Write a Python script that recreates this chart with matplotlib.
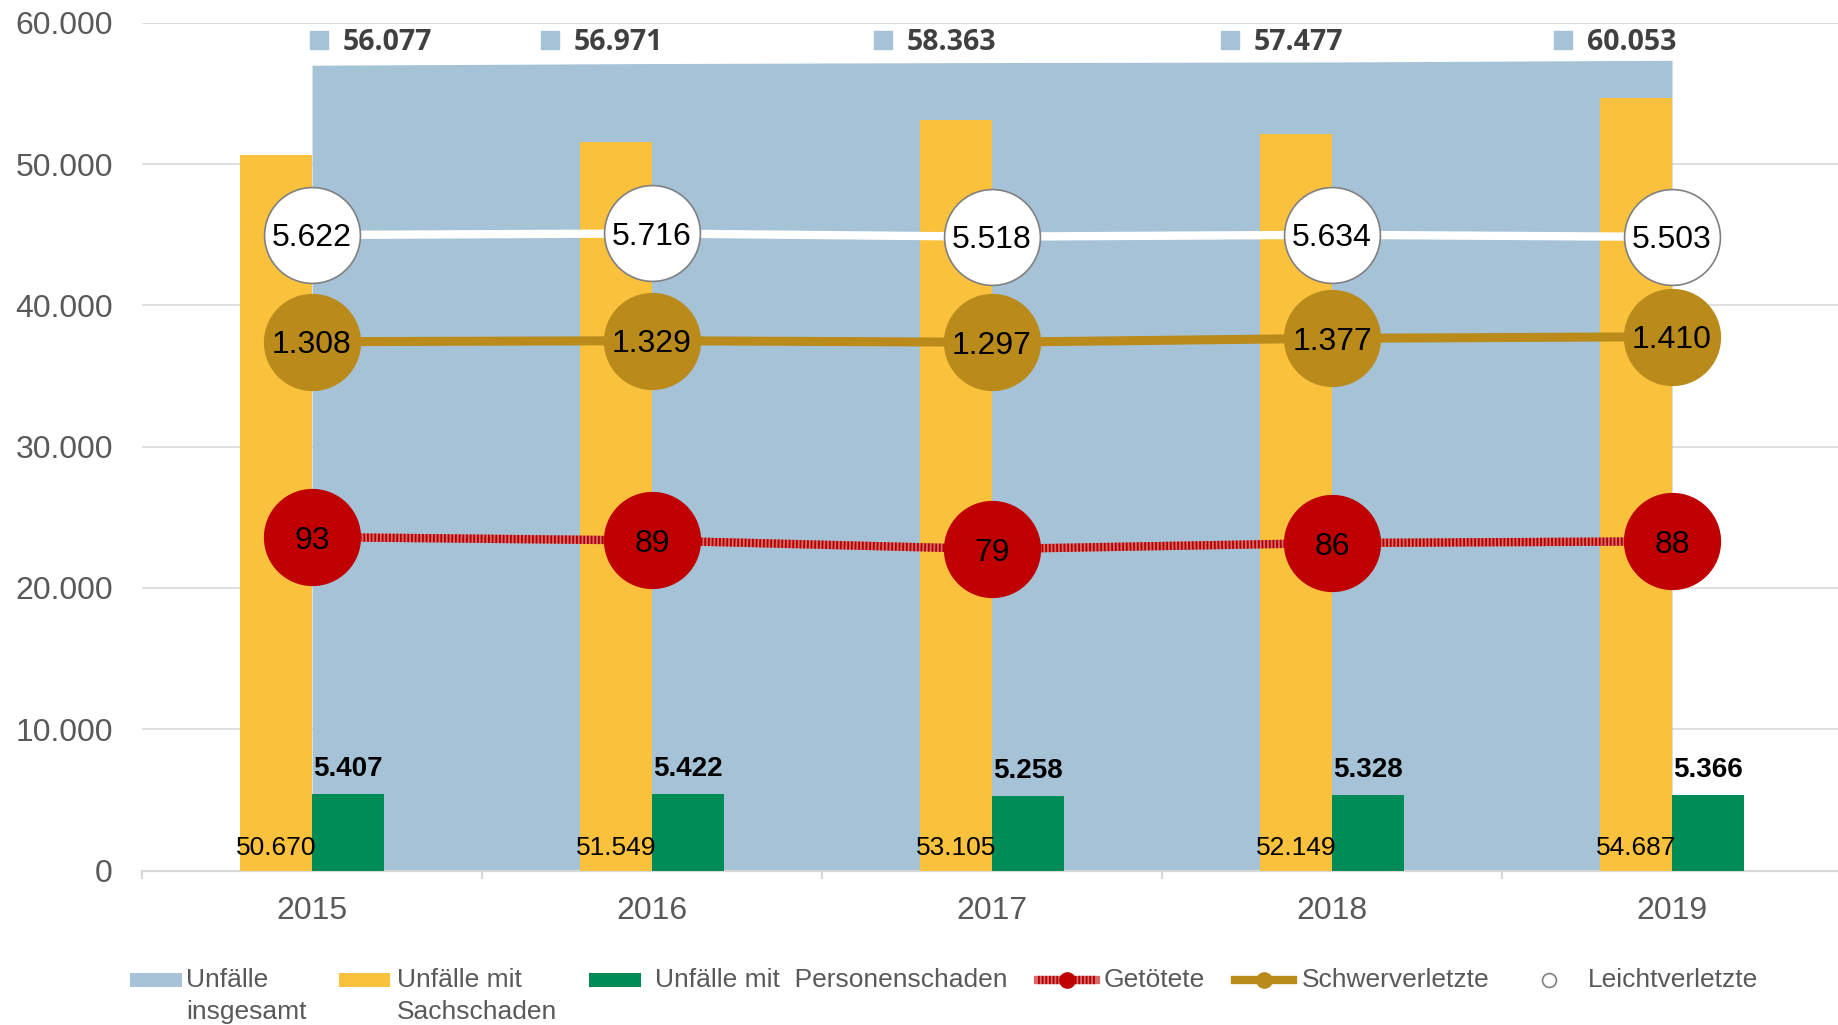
import matplotlib
matplotlib.use("Agg")
import matplotlib.pyplot as plt
from matplotlib.patches import Rectangle
from matplotlib.lines import Line2D
from matplotlib.ticker import FuncFormatter, FixedLocator
import numpy as np

# ---------------- data ----------------
years = ["2015", "2016", "2017", "2018", "2019"]
total_labels = [56077, 56971, 58363, 57477, 60053]      # "Unfälle insgesamt" (label values)
total_area = [56990, 57110, 57180, 57220, 57340]        # blue area height as drawn in the picture
sach = [50670, 51549, 53105, 52149, 54687]              # Unfälle mit Sachschaden
personen = [5407, 5422, 5258, 5328, 5366]               # Unfälle mit Personenschaden
getoetete = [93, 89, 79, 86, 88]
schwer = [1308, 1329, 1297, 1377, 1410]
leicht = [5622, 5716, 5518, 5634, 5503]
y_ticks = [0, 10000, 20000, 30000, 40000, 50000, 60000]
legend_labels = [["Unfälle", "insgesamt"], ["Unfälle mit", "Sachschaden"],
                 ["Unfälle mit  Personenschaden"], ["Getötete"], ["Schwerverletzte"],
                 ["Leichtverletzte"]]

# ---------------- style ----------------
BLUE = "#A5C2D7"
ORANGE = "#F9C13C"
GREEN = "#008C56"
GOLD = "#BA8A1B"
RED = "#C00000"
RED_LIGHT = "#D86A6A"
RED_DARK = "#B00000"
GRID = "#D9D9D9"
TXT = "#595959"

plt.rcParams["font.family"] = ["Liberation Sans", "DejaVu Sans"]


def de(v):
    return f"{int(v):,}".replace(",", ".")


W, H = 1838, 1025
fig = plt.figure(figsize=(W / 100, H / 100), dpi=100)


def fx(px):
    return px / W


def fy(py):  # py measured from top
    return (H - py) / H


ax = fig.add_axes([142 / W, (H - 870.5) / H, 1700 / W, 847.8 / H])
x = np.arange(len(years))
ax.set_xlim(-0.5, 4.5)
ax.set_ylim(0, 60000)

# grid / spines
ax.set_yticks(y_ticks)
ax.yaxis.set_major_formatter(FuncFormatter(lambda v, p: de(v)))
ax.grid(axis="y", color=GRID, lw=1.2, zorder=0)
ax.set_axisbelow(True)
for s in ["left", "right", "top"]:
    ax.spines[s].set_visible(False)
ax.spines["bottom"].set_color(GRID)
ax.spines["bottom"].set_linewidth(1.6)
ax.tick_params(axis="y", length=0, pad=21, labelsize=23, labelcolor=TXT)
ax.set_xticks(x)
ax.set_xticklabels(years)
ax.tick_params(axis="x", which="major", length=0, pad=18.5, labelsize=23, labelcolor=TXT)
ax.xaxis.set_minor_locator(FixedLocator(np.arange(-0.5, 5.0, 1.0)))
ax.tick_params(axis="x", which="minor", length=6, width=1.6, color=GRID)

# area + bars
ax.fill_between(x, 0, total_area, color=BLUE, lw=0, zorder=2)
bw = 0.213
ax.bar(x - bw / 2, sach, width=bw, color=ORANGE, zorder=3)
ax.bar(x + bw / 2, personen, width=bw, color=GREEN, zorder=3)

for i in range(len(years)):
    ax.annotate(de(sach[i]), (x[i] - bw / 2, 0), xytext=(0, 16.5), textcoords="offset points",
                ha="center", va="center", fontsize=19, color="black", zorder=6)
    ax.annotate(de(personen[i]), (x[i] + bw / 2, personen[i]), xytext=(0, 18),
                textcoords="offset points", ha="center", va="center", fontsize=20,
                fontweight="bold", color="black", zorder=6)

# labels for the total (blue square + bold number)
lab_off = [0.02, -0.30, -0.32, -0.30, -0.32]
trans = ax.get_xaxis_transform()
sq_y = (870.5 - 40) / 847.8
txt_y = (870.5 - 42) / 847.8
for i in range(len(years)):
    ax.plot([x[i] + lab_off[i]], [sq_y], marker="s", ms=13, color=BLUE, transform=trans,
            clip_on=False, zorder=6, ls="none")
    ax.annotate(de(total_labels[i]), (x[i] + lab_off[i], txt_y), xycoords=trans,
                xytext=(17, 0), textcoords="offset points", ha="left", va="center",
                fontsize=20.5, fontweight="bold", color="#404040",
                family=["Open Sans", "DejaVu Sans"], zorder=6)


# line series on hidden secondary scales
def twin(lims):
    t = ax.twinx()
    t.set_ylim(*lims)
    t.set_xlim(-0.5, 4.5)
    t.axis("off")
    return t


MS = 69
ax_g = twin((-296, 693))
ax_g.plot(x, getoetete, color=RED_LIGHT, lw=6, solid_capstyle="butt", zorder=3)
ax_g.plot(x, getoetete, color=RED_DARK, lw=6, ls=(0, (0.22, 0.22)), zorder=3)
ax_g.plot(x, getoetete, ls="none", marker="o", ms=MS, mfc=RED, mec=RED, zorder=4)

ax_s = twin((-9482, 7818))
ax_s.plot(x, schwer, color=GOLD, lw=6.5, marker="o", ms=MS, mfc=GOLD, mec=GOLD)

ax_l = twin((-33807, 18793))
ax_l.plot(x, leicht, color="white", lw=6, marker="o", ms=MS, mfc="white", mec="#808080",
          mew=1.2)

for t_ax, vals in [(ax_g, getoetete), (ax_s, schwer), (ax_l, leicht)]:
    for i, v in enumerate(vals):
        t_ax.text(x[i], v, de(v), ha="center", va="center_baseline", fontsize=23,
                  color="black", zorder=5)

# ---------------- legend (drawn by hand, pixel layout) ----------------
base1, base2, hy = 987, 1019, 980
# patches
for (x0, x1), col in [((130, 181.5), BLUE), ((339, 390), ORANGE), ((589, 641), GREEN)]:
    fig.add_artist(Rectangle((fx(x0), fy(hy + 7)), fx(x1) - fx(x0), 14 / H,
                             transform=fig.transFigure, facecolor=col, edgecolor="none"))
# Getötete handle
fig.add_artist(Line2D([fx(1038), fx(1096)], [fy(hy), fy(hy)], transform=fig.transFigure,
                      color=RED_LIGHT, lw=6))
fig.add_artist(Line2D([fx(1038), fx(1096)], [fy(hy), fy(hy)], transform=fig.transFigure,
                      color=RED_DARK, lw=6, ls=(0, (0.22, 0.22))))
fig.add_artist(Line2D([fx(1067)], [fy(hy)], transform=fig.transFigure, ls="none",
                      marker="o", ms=11, mfc=RED, mec=RED))
# Schwerverletzte handle
fig.add_artist(Line2D([fx(1235), fx(1293)], [fy(hy), fy(hy)], transform=fig.transFigure,
                      color=GOLD, lw=6, marker="none"))
fig.add_artist(Line2D([fx(1264)], [fy(hy)], transform=fig.transFigure, ls="none",
                      marker="o", ms=11, mfc=GOLD, mec=GOLD))
# Leichtverletzte handle
fig.add_artist(Line2D([fx(1549)], [fy(hy)], transform=fig.transFigure, ls="none",
                      marker="o", ms=10, mfc="white", mec="#808080", mew=1.2))

text_x = [186, 397, 655, 1104, 1302, 1588]
for tx, lines in zip(text_x, legend_labels):
    for k, line in enumerate(lines):
        fig.text(fx(tx), fy(base1 if k == 0 else base2), line, ha="left", va="baseline",
                 fontsize=19, color=TXT)

fig.savefig("out.png", dpi=100)
